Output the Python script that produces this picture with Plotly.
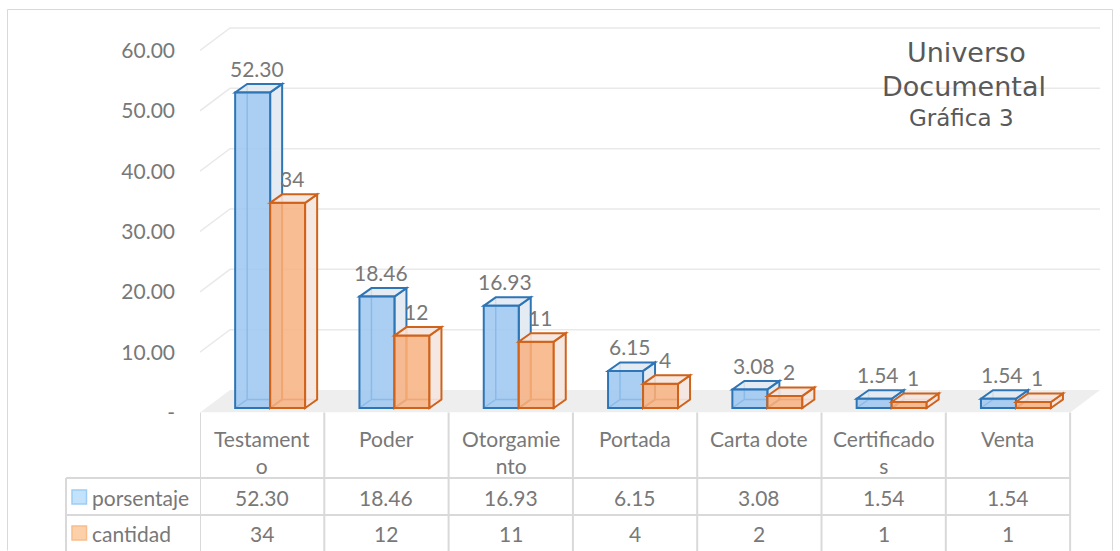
import plotly.graph_objects as go

# ---------------- data ----------------
CATEGORIES = ["Testamento", "Poder", "Otorgamiento", "Portada", "Carta dote", "Certificados", "Venta"]
CATEGORY_LABELS = ["Testament<br>o", "Poder", "Otorgamie<br>nto", "Portada", "Carta dote", "Certificado<br>s", "Venta"]
SERIES_NAMES = ["porsentaje", "cantidad"]
PORSENTAJE = [52.30, 18.46, 16.93, 6.15, 3.08, 1.54, 1.54]
CANTIDAD = [34, 12, 11, 4, 2, 1, 1]
Y_TICK_VALUES = [0, 10, 20, 30, 40, 50, 60]
Y_TICK_TEXT = ["-", "10.00", "20.00", "30.00", "40.00", "50.00", "60.00"]
TITLE_LINES = ["Universo", "Documental", "Gráfica 3"]

# ---------------- geometry / style ----------------
W, H = 1120, 551          # reference frame used for placing things
FIG_H = 562               # rendered figure height
FONT = "Lato"
TEXT_COLOR = "#787878"
TITLE_COLOR = "#595959"
GRID_COLOR = "#e9e9e9"
TABLE_LINE = "#d9d9d9"

X_RANGE = [-0.5, 6.8]
X_PX = [200, 1107.4]
Y_RANGE = [0, 65]
Y_PX = [412.5, 20.3]

px_per_cat = (X_PX[1] - X_PX[0]) / (X_RANGE[1] - X_RANGE[0])
px_per_unit = (Y_PX[0] - Y_PX[1]) / (Y_RANGE[1] - Y_RANGE[0])


def xpx(px):
    return px / W


def ypx(py):
    return (H - py) / H


def data_x_to_paper(x):
    return xpx(X_PX[0] + (x - X_RANGE[0]) * px_per_cat)


FLOOR_DX = 30 / px_per_cat
FLOOR_DY = 22.5 / px_per_unit
BAR_W = 35 / px_per_cat
BLUE_OFF = -27 / px_per_cat
ORANGE_OFF = BLUE_OFF + BAR_W
BAR_DX = 12 / px_per_cat
BAR_DY = 8.5 / px_per_unit
LIFT = 4.5 / px_per_unit

SERIES_STYLE = [
    dict(offset=BLUE_OFF, fill="rgba(155,199,241,0.85)", edge="#2e75b6",
         face="rgba(226,233,241,0.9)", swatch="#c3e2fb", swatch_edge="#9dcdf3",
         fmt="{:.2f}", face_layer="below"),
    dict(offset=ORANGE_OFF, fill="rgba(248,178,128,0.85)", edge="#d0631b",
         face="rgba(244,230,224,0.9)", swatch="#fcd1a9", swatch_edge="#f8bd8a",
         fmt="{:d}", face_layer="above"),
]

fig = go.Figure()
shapes = []
annotations = []

# outer chart border (left, top, right sides; bottom lies below the picture)
bx0, bx1, by0, by1 = xpx(7.5), xpx(1112.5), ypx(9.5), ypx(550.5)
shapes.append(dict(type="path", xref="paper", yref="paper", layer="below",
                   path=f"M{bx0},{by1} L{bx0},{by0} L{bx1},{by0} L{bx1},{by1}",
                   line=dict(color="#d9d9d9", width=1)))

# floor
n = len(CATEGORIES)
xl, xr = -0.5, n - 0.5
shapes.append(dict(type="path", xref="x", yref="y", layer="below",
                   path=f"M{xl},0 L{xr},0 L{xr + FLOOR_DX},{FLOOR_DY} L{xl + FLOOR_DX},{FLOOR_DY} Z",
                   fillcolor="#eeeeee", line=dict(width=0)))

# back-wall gridlines
for t in Y_TICK_VALUES[1:]:
    shapes.append(dict(type="path", xref="x", yref="y", layer="below",
                       path=f"M{xl},{t} L{xl + FLOOR_DX},{t + FLOOR_DY} L{xr + FLOOR_DX},{t + FLOOR_DY}",
                       line=dict(color=GRID_COLOR, width=1.5)))

# bars (front faces) + 3D faces
for name, vals, st in zip(SERIES_NAMES, [PORSENTAJE, CANTIDAD], SERIES_STYLE):
    fig.add_bar(x=CATEGORIES, y=vals, base=LIFT, offset=st["offset"], width=BAR_W,
                name=name, showlegend=False, hoverinfo="x+y",
                marker=dict(color=st["fill"], line=dict(color=st["edge"], width=2)))
    for i, v in enumerate(vals):
        x0 = i + st["offset"]
        x1 = x0 + BAR_W
        b = LIFT
        t = LIFT + v
        dx, dy = BAR_DX, BAR_DY
        # hidden back edges
        shapes.append(dict(type="path", xref="x", yref="y", layer="below",
                           path=f"M{x0},{b} L{x0 + dx},{b + dy} L{x1 + dx},{b + dy} "
                                f"M{x0 + dx},{b + dy} L{x0 + dx},{t + dy}",
                           line=dict(color=st["edge"], width=1.5)))
        # side face
        shapes.append(dict(type="path", xref="x", yref="y", layer=st["face_layer"],
                           path=f"M{x1},{b} L{x1 + dx},{b + dy} L{x1 + dx},{t + dy} L{x1},{t} Z",
                           fillcolor=st["face"], line=dict(color=st["edge"], width=2)))
        # top face
        shapes.append(dict(type="path", xref="x", yref="y", layer=st["face_layer"],
                           path=f"M{x0},{t} L{x1},{t} L{x1 + dx},{t + dy} L{x0 + dx},{t + dy} Z",
                           fillcolor=st["face"], line=dict(color=st["edge"], width=2)))
        # value label
        annotations.append(dict(xref="x", yref="y", x=x0 + BAR_W / 2 + dx / 3, y=t + dy,
                                text=st["fmt"].format(v), showarrow=False,
                                yanchor="bottom", yshift=1,
                                font=dict(family=FONT, size=21, color=TEXT_COLOR)))

# ---------------- data table ----------------
ROW_TOP = 412.5
ROW_CAT_BOTTOM = 478
ROW_S1_BOTTOM = 515
TABLE_BOTTOM = 551
LEG_LEFT = 66

for k in range(n + 1):
    shapes.append(dict(type="line", xref="x", yref="paper", x0=k - 0.5, x1=k - 0.5,
                       y0=ypx(ROW_TOP), y1=ypx(TABLE_BOTTOM),
                       line=dict(color=TABLE_LINE, width=2)))
shapes.append(dict(type="line", xref="paper", yref="paper", x0=xpx(LEG_LEFT), x1=xpx(LEG_LEFT),
                   y0=ypx(ROW_CAT_BOTTOM), y1=ypx(TABLE_BOTTOM),
                   line=dict(color=TABLE_LINE, width=2)))
for yy in [ROW_CAT_BOTTOM, ROW_S1_BOTTOM]:
    shapes.append(dict(type="line", xref="paper", yref="paper",
                       x0=xpx(LEG_LEFT), x1=data_x_to_paper(n - 0.5),
                       y0=ypx(yy), y1=ypx(yy), line=dict(color=TABLE_LINE, width=2)))

for i, lab in enumerate(CATEGORY_LABELS):
    annotations.append(dict(xref="x", yref="paper", x=i, y=ypx(424), text=lab,
                            showarrow=False, yanchor="top", align="center",
                            font=dict(family=FONT, size=21, color=TEXT_COLOR)))

row_centers = [(ROW_CAT_BOTTOM + ROW_S1_BOTTOM) / 2 + 0.5, 533]
for r, (name, vals, st) in enumerate(zip(SERIES_NAMES, [PORSENTAJE, CANTIDAD], SERIES_STYLE)):
    yc = row_centers[r]
    for i, v in enumerate(vals):
        annotations.append(dict(xref="x", yref="paper", x=i, y=ypx(yc), text=st["fmt"].format(v),
                                showarrow=False, yanchor="middle",
                                font=dict(family=FONT, size=21, color=TEXT_COLOR)))
    # legend swatch + name
    shapes.append(dict(type="rect", xref="paper", yref="paper",
                       x0=xpx(72), x1=xpx(86.5), y0=ypx(yc - 7), y1=ypx(yc + 7),
                       fillcolor=st["swatch"], line=dict(color=st["swatch_edge"], width=1.5)))
    annotations.append(dict(xref="paper", yref="paper", x=xpx(90), y=ypx(yc), text=name,
                            showarrow=False, xanchor="left", yanchor="middle",
                            font=dict(family=FONT, size=21, color=TEXT_COLOR)))

# ---------------- title ----------------
title_pos = [(966, 53, 27), (964, 86, 27), (962, 118, 23)]
for txt, (tx, ty, fs) in zip(TITLE_LINES, title_pos):
    annotations.append(dict(xref="paper", yref="paper", x=xpx(tx), y=ypx(ty), text=txt,
                            showarrow=False, xanchor="center", yanchor="middle",
                            font=dict(family="DejaVu Sans", size=fs, color=TITLE_COLOR)))

fig.update_layout(
    width=W, height=FIG_H,
    margin=dict(l=0, r=0, t=0, b=0),
    paper_bgcolor="white", plot_bgcolor="rgba(0,0,0,0)",
    barmode="overlay",
    showlegend=False,
    shapes=shapes,
    annotations=annotations,
    xaxis=dict(type="category", range=X_RANGE, domain=[xpx(X_PX[0]), xpx(X_PX[1])],
               showticklabels=False, showgrid=False, zeroline=False, showline=False,
               fixedrange=True),
    yaxis=dict(range=Y_RANGE, domain=[ypx(Y_PX[0]), ypx(Y_PX[1])],
               tickvals=Y_TICK_VALUES, ticktext=Y_TICK_TEXT,
               tickfont=dict(family=FONT, size=21, color=TEXT_COLOR),
               showgrid=False, zeroline=False, showline=False, ticks="",
               ticklabelstandoff=24, fixedrange=True),
)

fig.write_html("out.html", config={"displayModeBar": False},
               post_script="document.body.style.margin='0px';document.body.style.overflow='hidden';")
